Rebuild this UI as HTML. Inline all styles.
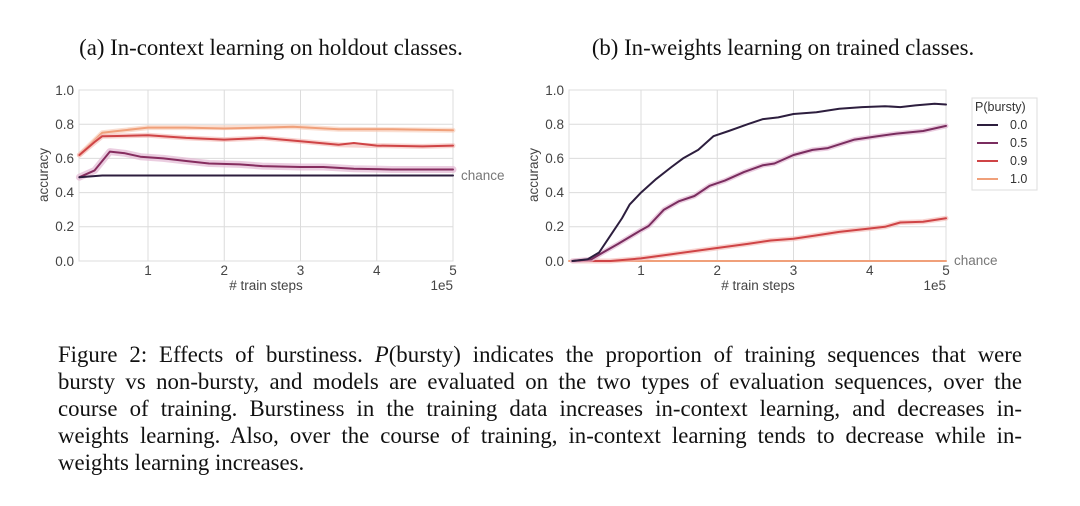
<!DOCTYPE html>
<html><head><meta charset="utf-8"><style>
body{margin:0;background:#fff;width:1080px;height:506px;overflow:hidden;position:relative}
.cap{position:absolute;left:58px;width:964px;font:22.8px "Liberation Serif",serif;color:#111;white-space:nowrap}
.j{text-align:justify;text-align-last:justify;white-space:normal}
</style></head><body>
<svg width="1080" height="320" style="position:absolute;left:0;top:0" font-family="Liberation Sans, sans-serif">
<g font-family="Liberation Serif, serif" font-size="22.8" fill="#111" text-anchor="middle">
<text x="271" y="55">(a) In-context learning on holdout classes.</text>
<text x="783" y="55">(b) In-weights learning on trained classes.</text>
</g>
<!-- left axes -->
<g stroke="#dcdcdc" stroke-width="1">
<line x1="79" y1="90" x2="453" y2="90"/><line x1="79" y1="124.2" x2="453" y2="124.2"/><line x1="79" y1="158.4" x2="453" y2="158.4"/><line x1="79" y1="192.6" x2="453" y2="192.6"/><line x1="79" y1="226.8" x2="453" y2="226.8"/><line x1="79" y1="261" x2="453" y2="261"/>
<line x1="148" y1="90" x2="148" y2="261"/><line x1="224.25" y1="90" x2="224.25" y2="261"/><line x1="300.5" y1="90" x2="300.5" y2="261"/><line x1="376.75" y1="90" x2="376.75" y2="261"/>
<rect x="79" y="90" width="374" height="171" fill="none"/>
</g>
<g font-size="13.5" fill="#444" text-anchor="end">
<text x="74" y="95">1.0</text><text x="74" y="129">0.8</text><text x="74" y="163">0.6</text><text x="74" y="197">0.4</text><text x="74" y="231">0.2</text><text x="74" y="266">0.0</text>
</g>
<g font-size="13.5" fill="#444" text-anchor="middle">
<text x="148" y="275">1</text><text x="224.25" y="275">2</text><text x="300.5" y="275">3</text><text x="376.75" y="275">4</text><text x="453" y="275">5</text>
<text x="266" y="290">#&#160;train steps</text>
</g>
<text x="453" y="290" font-size="13.5" fill="#444" text-anchor="end">1e5</text>
<text x="48" y="175" font-size="13.5" fill="#444" text-anchor="middle" transform="rotate(-90 48 175)">accuracy</text>
<text x="461" y="180" font-size="13.5" fill="#777">chance</text>
<g fill="none" stroke-linejoin="round" stroke-linecap="round">
<polyline stroke="#f6c9b4" stroke-width="5" opacity="0.6" points="79.4,155 102.25,132.75 117.5,131 148,127.6 224.25,127.6 292.9,126.8 338.6,129.3 453,130.2"/>
<polyline stroke="#f0a07a" stroke-width="2" points="79.4,155 94.6,140 102.25,132.75 117.5,131 148,127.6 186.1,127.6 224.25,128.5 262.4,127.6 292.9,126.8 338.6,129.3 392,129.3 453,130.2"/>
<polyline stroke="#f3b5b0" stroke-width="5" opacity="0.6" points="79.4,155 102.25,136.2 148,135.3 186.1,137.9 224.25,139.6 262.4,137.9 300.5,141.3 338.6,144.7 376.75,145.6 422.5,146.4 453,145.6"/>
<polyline stroke="#cf4446" stroke-width="2" points="79.4,155 94.6,142 102.25,136.2 117.5,136 148,135.3 186.1,137.9 224.25,139.6 262.4,137.9 300.5,141.3 338.6,144.7 353.9,143 376.75,145.6 422.5,146.4 453,145.6"/>
<polyline stroke="#e3b8d3" stroke-width="7" opacity="0.7" points="79.4,177.2 94.6,170.4 109.9,151.6 125.1,153.3 140.4,156.7 163.3,158.4 186.1,161 209,163.5 239.5,164.4 262.4,166.1 300.5,167 323.4,167 353.9,168.7 392,169.5 453,169.5"/>
<polyline stroke="#862d5f" stroke-width="2" points="79.4,177.2 94.6,170.4 109.9,151.6 125.1,153.3 140.4,156.7 163.3,158.4 186.1,161 209,163.5 239.5,164.4 262.4,166.1 300.5,167 323.4,167 353.9,168.7 392,169.5 453,169.5"/>
<polyline stroke="#2d1e3e" stroke-width="2" points="79.4,177.2 102.25,175.5 453,175.5"/>
</g>
<!-- right axes -->
<g stroke="#dcdcdc" stroke-width="1">
<line x1="569" y1="90" x2="946" y2="90"/><line x1="569" y1="124.2" x2="946" y2="124.2"/><line x1="569" y1="158.4" x2="946" y2="158.4"/><line x1="569" y1="192.6" x2="946" y2="192.6"/><line x1="569" y1="226.8" x2="946" y2="226.8"/><line x1="569" y1="261" x2="946" y2="261"/>
<line x1="641" y1="90" x2="641" y2="261"/><line x1="717.25" y1="90" x2="717.25" y2="261"/><line x1="793.5" y1="90" x2="793.5" y2="261"/><line x1="869.75" y1="90" x2="869.75" y2="261"/>
<rect x="569" y="90" width="377" height="171" fill="none"/>
</g>
<g font-size="13.5" fill="#444" text-anchor="end">
<text x="564" y="95">1.0</text><text x="564" y="129">0.8</text><text x="564" y="163">0.6</text><text x="564" y="197">0.4</text><text x="564" y="231">0.2</text><text x="564" y="266">0.0</text>
</g>
<g font-size="13.5" fill="#444" text-anchor="middle">
<text x="641" y="275">1</text><text x="717.25" y="275">2</text><text x="793.5" y="275">3</text><text x="869.75" y="275">4</text><text x="946" y="275">5</text>
<text x="758" y="290">#&#160;train steps</text>
</g>
<text x="946" y="290" font-size="13.5" fill="#444" text-anchor="end">1e5</text>
<text x="538" y="175" font-size="13.5" fill="#444" text-anchor="middle" transform="rotate(-90 538 175)">accuracy</text>
<text x="954" y="265" font-size="13.5" fill="#777">chance</text>
<g fill="none" stroke-linejoin="round" stroke-linecap="round">
<polyline stroke="#f0a07a" stroke-width="2" points="569,261 946,261"/>
<polyline stroke="#f3b5b0" stroke-width="5" opacity="0.6" points="572.4,261 610.5,261 641,258.4 671.5,254.2 709.6,249 747.75,243.9 770.6,240.5 793.5,238.8 816.4,235.4 839.25,231.9 869.75,228.5 885,226.8 900.25,222.5 923.1,221.7 946,218.25"/>
<polyline stroke="#cf4446" stroke-width="2" points="572.4,261 610.5,261 641,258.4 671.5,254.2 709.6,249 747.75,243.9 770.6,240.5 793.5,238.8 816.4,235.4 839.25,231.9 869.75,228.5 885,226.8 900.25,222.5 923.1,221.7 946,218.25"/>
<polyline stroke="#e3b8d3" stroke-width="5" opacity="0.7" points="572.4,261 591.4,259.3 602.9,252.5 618.1,243.9 641,230.2 648.6,226 663.9,209.7 679.1,201.15 694.4,196 709.6,185.8 724.9,180.6 743.9,172.1 763,165.2 774.4,163.5 793.5,155 812.6,149.85 827.8,148.1 854.5,139.6 877.4,136.2 896.5,133.6 923.1,131 946,125.9"/>
<polyline stroke="#7a2d5f" stroke-width="2" points="572.4,261 591.4,259.3 602.9,252.5 618.1,243.9 641,230.2 648.6,226 663.9,209.7 679.1,201.15 694.4,196 709.6,185.8 724.9,180.6 743.9,172.1 763,165.2 774.4,163.5 793.5,155 812.6,149.85 827.8,148.1 854.5,139.6 877.4,136.2 896.5,133.6 923.1,131 946,125.9"/>
<polyline stroke="#2d1e3e" stroke-width="2" points="572.4,261 587.6,259.3 599.1,252.5 610.5,235.4 622,218.25 629.6,204.6 641,192.6 656.25,178.9 671.5,167 683,158.4 698.2,149.85 713.4,136.2 728.7,131 747.75,124.2 763,119.1 778.25,117.4 793.5,114 816.4,112.2 839.25,108.8 862.1,107.1 885,106.2 900.25,107.1 915.5,105.4 934.6,103.7 946,104.5"/>
</g>
<!-- legend -->
<rect x="972" y="98" width="65" height="92" fill="#fff" stroke="#ddd"/>
<text x="975" y="111" font-size="12.5" fill="#333">P(bursty)</text>
<g stroke-width="2">
<line x1="977" y1="125" x2="998" y2="125" stroke="#2d1e3e"/>
<line x1="977" y1="143" x2="998" y2="143" stroke="#7a2d5f"/>
<line x1="977" y1="161" x2="998" y2="161" stroke="#cf4446"/>
<line x1="977" y1="179" x2="998" y2="179" stroke="#f0a07a"/>
</g>
<g font-size="12.5" fill="#333">
<text x="1010" y="129">0.0</text><text x="1010" y="147">0.5</text><text x="1010" y="165">0.9</text><text x="1010" y="183">1.0</text>
</g>
</svg>
<div class="cap j" style="top:342px">Figure 2: Effects of burstiness. <i>P</i>(bursty) indicates the proportion of training sequences that were</div>
<div class="cap j" style="top:369px">bursty vs non-bursty, and models are evaluated on the two types of evaluation sequences, over the</div>
<div class="cap j" style="top:396px">course of training. Burstiness in the training data increases in-context learning, and decreases in-</div>
<div class="cap j" style="top:423px">weights learning. Also, over the course of training, in-context learning tends to decrease while in-</div>
<div class="cap" style="top:450px">weights learning increases.</div>
</body></html>
